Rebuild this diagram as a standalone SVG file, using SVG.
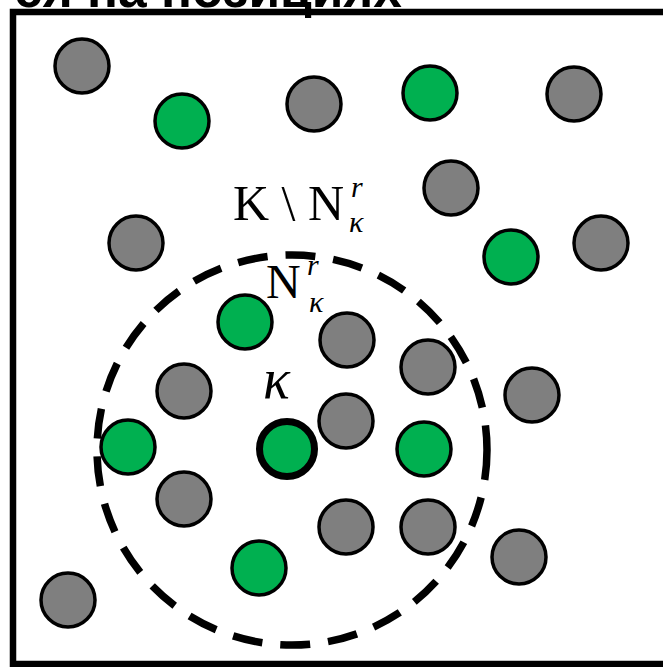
<svg xmlns="http://www.w3.org/2000/svg" width="663" height="667" viewBox="0 0 663 667">
<style>
.g{fill:#7f7f7f;stroke:#000;stroke-width:3.5}
.e{fill:#00b050;stroke:#000;stroke-width:3.5}
.t{font-family:"Liberation Serif","Times New Roman",serif;fill:#000}
.i{font-style:italic}
</style>
<rect width="663" height="667" fill="#fff"/>
<text x="14" y="7" font-family="Liberation Sans, Arial, sans-serif" font-size="54" font-weight="bold" textLength="388" lengthAdjust="spacingAndGlyphs">ся на позициях</text>
<rect x="13" y="12" width="670" height="652" fill="none" stroke="#000" stroke-width="6.5"/>
<g id="connectors">
<circle cx="292" cy="450" r="195" fill="none" stroke="#000" stroke-width="7.5" stroke-dasharray="30 18"/>
</g>
<g id="gray">
<circle id="g1" class="g" cx="82" cy="66" r="27"/>
<circle id="g2" class="g" cx="314" cy="104" r="27"/>
<circle id="g3" class="g" cx="574" cy="94" r="27"/>
<circle id="g4" class="g" cx="451" cy="188" r="27"/>
<circle id="g5" class="g" cx="136" cy="243" r="27"/>
<circle id="g6" class="g" cx="601" cy="243" r="27"/>
<circle id="g7" class="g" cx="347" cy="340" r="27"/>
<circle id="g8" class="g" cx="428" cy="367" r="27"/>
<circle id="g9" class="g" cx="184" cy="391" r="27"/>
<circle id="g10" class="g" cx="532" cy="395" r="27"/>
<circle id="g11" class="g" cx="346" cy="421" r="27"/>
<circle id="g12" class="g" cx="184" cy="499" r="27"/>
<circle id="g13" class="g" cx="346" cy="527" r="27"/>
<circle id="g14" class="g" cx="428" cy="527" r="27"/>
<circle id="g15" class="g" cx="519" cy="557" r="27"/>
<circle id="g16" class="g" cx="68" cy="600" r="27"/>
</g>
<g id="green">
<circle id="e1" class="e" cx="182" cy="121" r="27"/>
<circle id="e2" class="e" cx="430" cy="93" r="27"/>
<circle id="e3" class="e" cx="511" cy="257" r="27"/>
<circle id="e4" class="e" cx="245" cy="322" r="27"/>
<circle id="e5" class="e" cx="128" cy="447" r="27"/>
<circle id="e6" class="e" cx="424" cy="449" r="27"/>
<circle id="e7" class="e" cx="259" cy="568" r="27"/>
</g>
<g id="center">
<circle cx="287" cy="449" r="27.5" fill="#00b050" stroke="#000" stroke-width="7"/>
</g>
<g id="labels">
<text class="t" x="233" y="220" font-size="50">K \ N</text>
<text class="t i" x="351" y="197" font-size="30">r</text>
<text class="t i" x="349" y="232" font-size="30">κ</text>
<text class="t" x="266" y="298" font-size="48">N</text>
<text class="t i" x="307" y="275" font-size="30">r</text>
<text class="t i" x="309" y="312" font-size="30">κ</text>
<text class="t i" x="263" y="398" font-size="56">κ</text>
</g>
</svg>
